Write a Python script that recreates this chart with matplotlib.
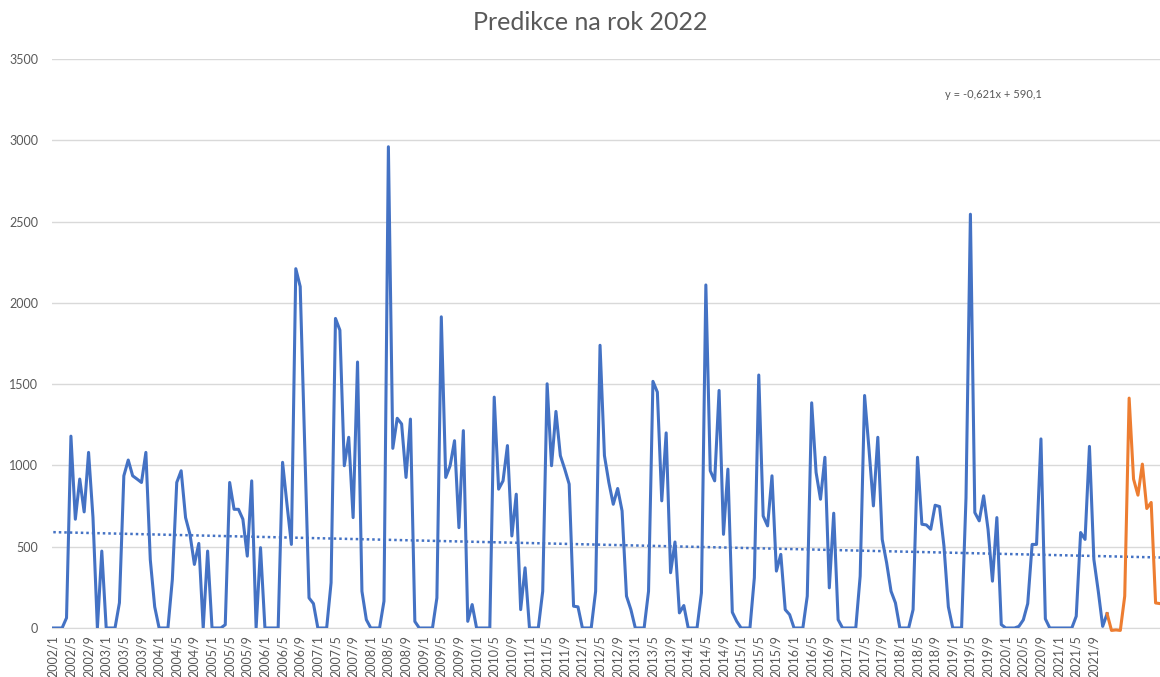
import numpy as np
import matplotlib
matplotlib.use("Agg")
from matplotlib import pyplot as plt

# Monthly values 2002/1 .. 2021/12 (blue)
values_2002 = [0, 0, 0, 62, 1180, 669, 916, 714, 1080, 680, 0, 473]
values_2003 = [0, 0, 0, 155, 936, 1033, 936, 916, 895, 1080, 420, 130]
values_2004 = [0, 0, 0, 298, 895, 967, 679, 576, 391, 520, 0, 473]
values_2005 = [0, 0, 0, 20, 895, 730, 730, 669, 442, 905, 0, 494]
values_2006 = [0, 0, 0, 0, 1019, 761, 514, 2210, 2100, 1150, 185, 150]
values_2007 = [0, 0, 0, 278, 1904, 1832, 998, 1173, 679, 1636, 226, 51]
values_2008 = [0, 0, 0, 165, 2960, 1105, 1290, 1255, 926, 1285, 40, 0]
values_2009 = [0, 0, 0, 185, 1914, 926, 998, 1152, 617, 1214, 41, 144]
values_2010 = [0, 0, 0, 0, 1420, 854, 905, 1122, 566, 823, 113, 370]
values_2011 = [0, 0, 0, 226, 1502, 998, 1332, 1060, 977, 885, 134, 130]
values_2012 = [0, 0, 0, 226, 1739, 1060, 895, 761, 858, 720, 196, 113]
values_2013 = [0, 0, 0, 226, 1517, 1451, 782, 1200, 340, 529, 93, 138]
values_2014 = [0, 0, 0, 216, 2110, 967, 905, 1461, 576, 977, 97, 41]
values_2015 = [0, 0, 0, 309, 1556, 689, 628, 936, 350, 453, 113, 82]
values_2016 = [0, 0, 0, 196, 1385, 957, 792, 1050, 247, 706, 51, 0]
values_2017 = [0, 0, 0, 319, 1430, 1100, 751, 1173, 545, 401, 226, 154]
values_2018 = [0, 0, 0, 113, 1050, 638, 634, 607, 755, 747, 504, 130]
values_2019 = [0, 0, 0, 800, 2545, 710, 659, 813, 607, 288, 679, 21]
values_2020 = [0, 0, 0, 10, 50, 150, 514, 514, 1163, 56, 0, 0]
values_2021 = [0, 0, 0, 0, 72, 587, 545, 1117, 422, 226, 10, 88]

# Prediction for 2022 (orange)
prediction_2022 = [-15, -12, -15, 196, 1414, 916, 817, 1008, 735, 772, 154, 150]

# Linear trend shown on the chart
trend_slope = -0.621
trend_intercept = 590.1

years = list(range(2002, 2022))
history = (values_2002 + values_2003 + values_2004 + values_2005 + values_2006
           + values_2007 + values_2008 + values_2009 + values_2010 + values_2011
           + values_2012 + values_2013 + values_2014 + values_2015 + values_2016
           + values_2017 + values_2018 + values_2019 + values_2020 + values_2021)
categories = [f"{y}/{m}" for y in years for m in range(1, 13)] + [""] * 12

n_hist = len(history)
n_all = len(categories)

text_color = "#595959"
grid_color = "#D9D9D9"
blue = "#4472C4"
orange = "#ED7D31"

plt.rcParams['font.family'] = ['Lato', 'DejaVu Sans']

fig = plt.figure(figsize=(11.6, 6.77), dpi=100)
ax = fig.add_axes([0.0448, 0.0724, 0.9552, 0.8405])

x_hist = np.arange(n_hist)
ax.plot(x_hist, history, color=blue, lw=2.2, solid_joinstyle='round', zorder=3)

# orange series starts from the last known month
x_pred = np.arange(n_hist - 1, n_all)
y_pred = [history[-1]] + prediction_2022
ax.plot(x_pred, y_pred, color=orange, lw=2.2, solid_joinstyle='round',
        zorder=3, clip_on=False)

# trend line over the whole category range (x = 1 .. n)
x_trend = np.arange(n_all)
y_trend = trend_slope * (x_trend + 1) + trend_intercept
ax.plot(x_trend, y_trend, color=blue, lw=1.8, linestyle=(0, (1, 1.2)), zorder=2)

ax.set_ylim(0, 3500)
ax.set_xlim(-0.3, n_all - 1)
ax.set_yticks(np.arange(0, 3501, 500))
ax.yaxis.grid(True, color=grid_color, lw=1)
ax.set_axisbelow(True)
for side in ['top', 'right', 'left']:
    ax.spines[side].set_visible(False)
ax.spines['bottom'].set_color(grid_color)

tick_pos = list(range(0, n_hist, 4))
ax.set_xticks(tick_pos)
ax.set_xticklabels([categories[i] for i in tick_pos], rotation=90,
                   fontsize=9, color=text_color)
ax.tick_params(axis='x', length=0, pad=5)
ax.tick_params(axis='y', length=0, pad=10, labelsize=9, labelcolor=text_color)

fig.text(0.509, 1 - 22 / 677, "Predikce na rok 2022", ha='center', va='center',
         fontsize=18, color=text_color)
fig.text(945 / 1160, 1 - 95 / 677, "y = -0,621x + 590,1", ha='left', va='center',
         fontsize=8, color=text_color)

fig.savefig("out.png", dpi=100)
